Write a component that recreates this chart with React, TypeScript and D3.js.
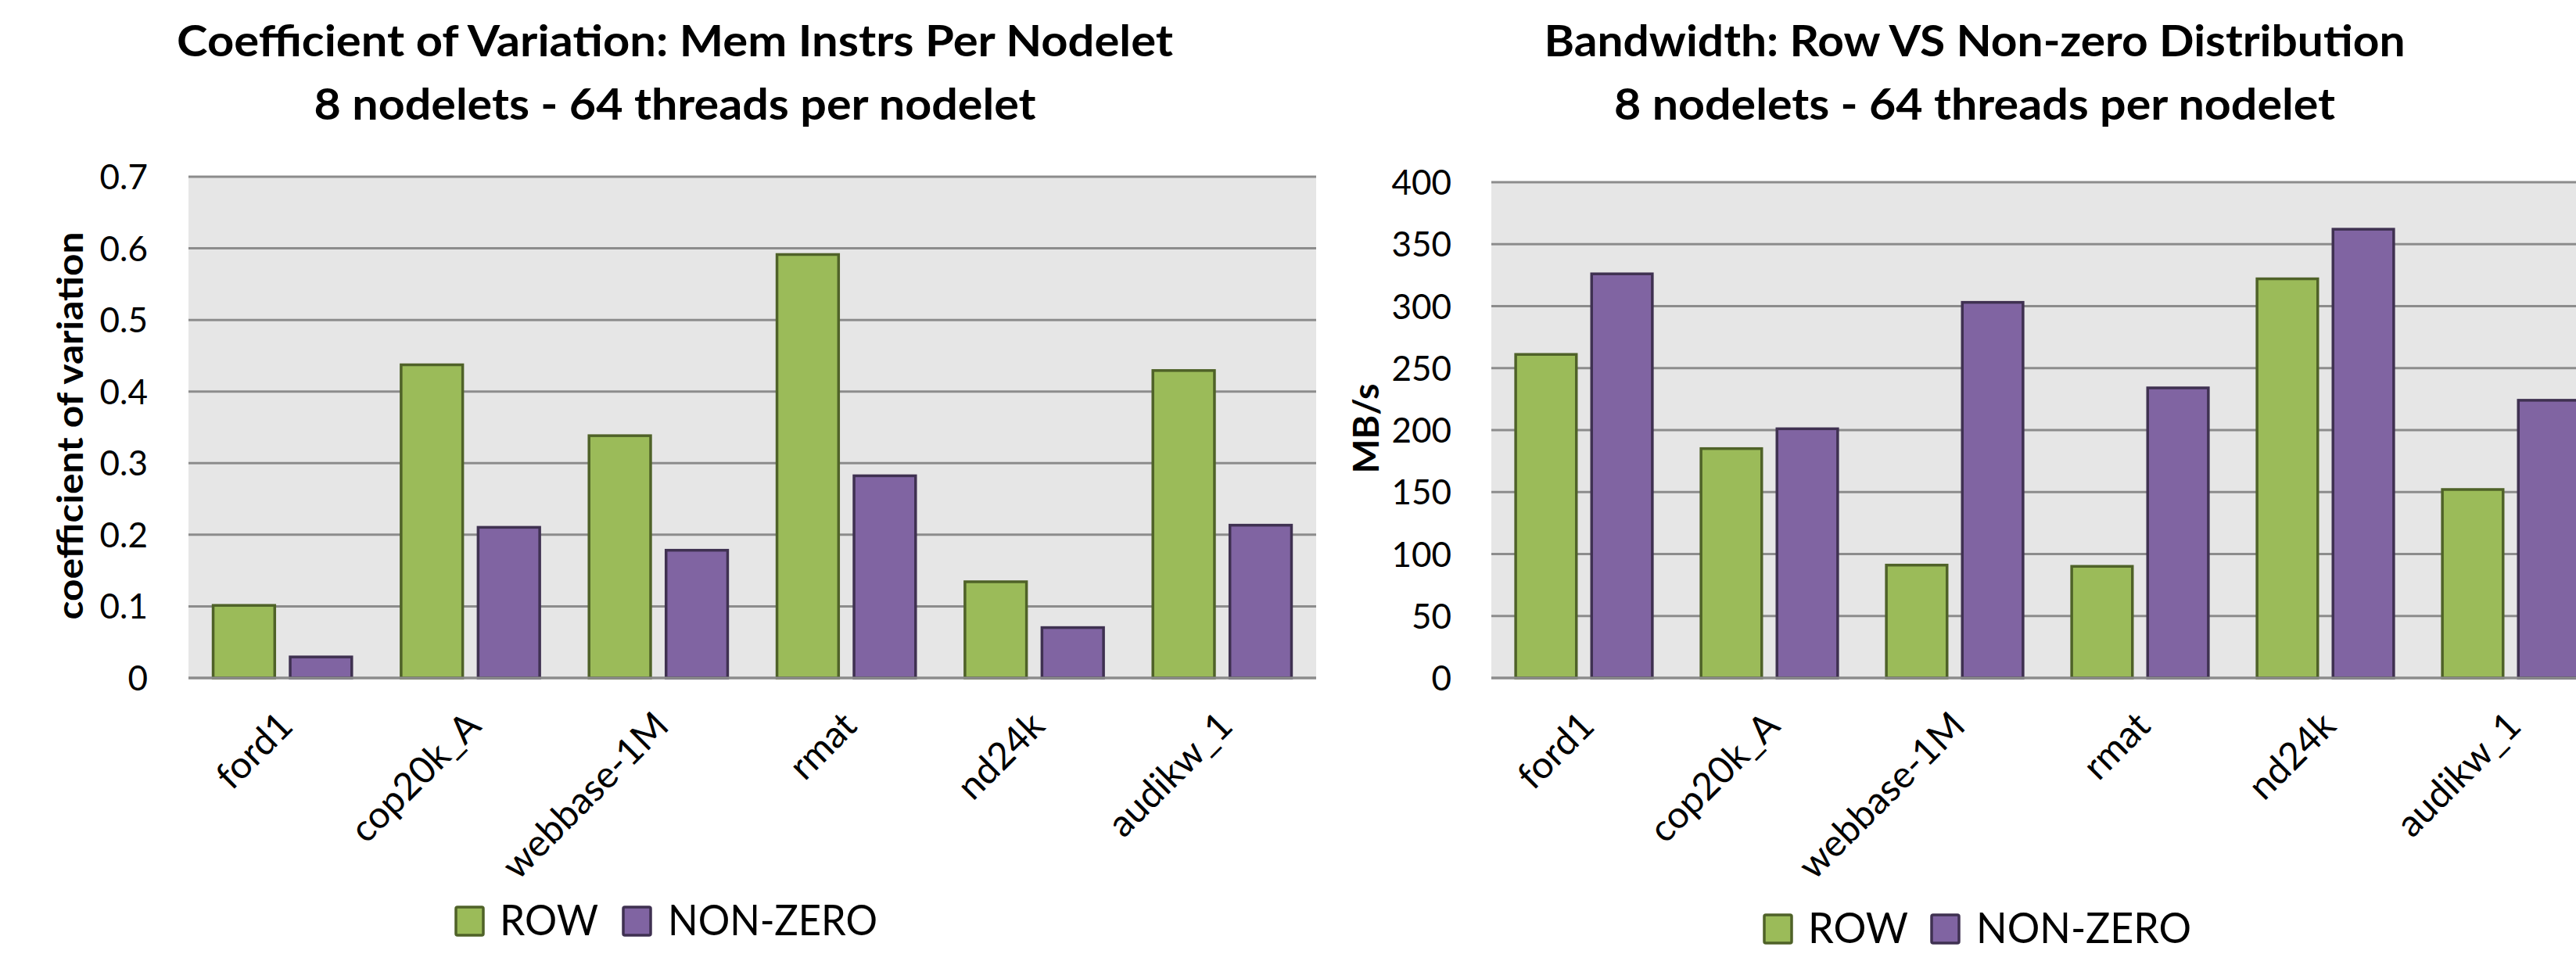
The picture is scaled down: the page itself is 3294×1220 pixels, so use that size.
import React from "react";
import * as d3 from "d3";

// ---------- data ----------
const categories = ["ford1", "cop20k_A", "webbase-1M", "rmat", "nd24k", "audikw_1"];
const seriesNames = ["ROW", "NON-ZERO"];

const cvRow = [0.103, 0.439, 0.340, 0.593, 0.136, 0.431];
const cvNonZero = [0.031, 0.212, 0.180, 0.284, 0.072, 0.215];
const cvTicks = [0, 0.1, 0.2, 0.3, 0.4, 0.5, 0.6, 0.7];

const bwRow = [262, 186, 92, 91, 323, 153];
const bwNonZero = [327, 202, 304, 235, 363, 225];
const bwTicks = [0, 50, 100, 150, 200, 250, 300, 350, 400];

const leftTitle = ["Coefficient of Variation: Mem Instrs Per Nodelet", "8 nodelets - 64 threads per nodelet"];
const rightTitle = ["Bandwidth: Row VS Non-zero Distribution", "8 nodelets - 64 threads per nodelet"];

const COLORS = {
  fill: ["#9BBB59", "#8064A2"],
  stroke: ["#4F6228", "#3F3151"],
};
const FONT = "Lato, 'Open Sans', sans-serif";

type ChartProps = {
  left: number; right: number; top: number; bottom: number;
  maxY: number; ticks: number[]; tickFmt: (v: number) => string;
  row: number[]; nz: number[];
  tickRight: number;
  title: string[]; titleCx: number; titleWidths: number[];
  yTitle: string; yTitleX: number; yTitleLen: number; yTitleSize: number;
  legendX: number; legendY: number; legendLens: number[];
};

function Chart(p: ChartProps) {
  const x0 = d3.scaleBand<string>().domain(categories).range([p.left, p.right]).paddingInner(0.25).paddingOuter(0.125);
  const x1 = d3.scaleBand<string>().domain(seriesNames).range([0, x0.bandwidth()]).paddingInner(0.17);
  const y = d3.scaleLinear().domain([0, p.maxY]).range([p.bottom, p.top]);
  const values = [p.row, p.nz];
  const yMid = (p.top + p.bottom) / 2;
  return (
    <g>
      <rect x={p.left} y={p.top} width={p.right - p.left} height={p.bottom - p.top} fill="#E6E6E6" />
      {p.ticks.map((t) => (
        <g key={t}>
          <line x1={p.left} x2={p.right} y1={y(t)} y2={y(t)} stroke="#8C8C8C" strokeWidth={3} />
          <text x={p.tickRight} y={y(t) + 16} textAnchor="end" fontFamily={FONT} fontSize={44} fill="#000">
            {p.tickFmt(t)}
          </text>
        </g>
      ))}
      {categories.map((c, i) => (
        <g key={c}>
          {seriesNames.map((s, si) => {
            const v = values[si][i];
            const bx = (x0(c) as number) + (x1(s) as number);
            return (
              <rect key={s} x={bx + 1.5} y={y(v) + 1.5} width={x1.bandwidth() - 3} height={y(0) - y(v) - 1.5}
                fill={COLORS.fill[si]} stroke={COLORS.stroke[si]} strokeWidth={3.5} />
            );
          })}
          <text
            transform={`translate(${(x0(c) as number) + x0.bandwidth() / 2 + 16},${p.bottom + 64}) rotate(-45)`}
            textAnchor="end" fontFamily={FONT} fontSize={48} fill="#000">
            {c}
          </text>
        </g>
      ))}
      <line x1={p.left} x2={p.right} y1={y(0)} y2={y(0)} stroke="#8C8C8C" strokeWidth={3} />
      {p.title.map((t, i) => (
        <text key={i} x={p.titleCx} y={72 + i * 81} textAnchor="middle" fontFamily={FONT} fontWeight="bold"
          fontSize={56} textLength={p.titleWidths[i]} lengthAdjust="spacingAndGlyphs" fill="#000">
          {t}
        </text>
      ))}
      <text transform={`translate(${p.yTitleX},${yMid - 2}) rotate(-90)`} textAnchor="middle" fontFamily={FONT}
        fontWeight="bold" fontSize={p.yTitleSize} textLength={p.yTitleLen} lengthAdjust="spacingAndGlyphs" fill="#000">
        {p.yTitle}
      </text>
      {/* legend */}
      <rect x={p.legendX + 2} y={p.legendY - 36} width={35} height={36} fill={COLORS.fill[0]} stroke={COLORS.stroke[0]} strokeWidth={3.5} rx={2} />
      <text x={p.legendX + 58} y={p.legendY} fontFamily={FONT} fontSize={55} textLength={p.legendLens[0]} lengthAdjust="spacingAndGlyphs">
        {seriesNames[0]}
      </text>
      <rect x={p.legendX + 216} y={p.legendY - 36} width={35} height={36} fill={COLORS.fill[1]} stroke={COLORS.stroke[1]} strokeWidth={3.5} rx={2} />
      <text x={p.legendX + 273} y={p.legendY} fontFamily={FONT} fontSize={55} textLength={p.legendLens[1]} lengthAdjust="spacingAndGlyphs">
        {seriesNames[1]}
      </text>
    </g>
  );
}

export default function App() {
  return (
    <svg width={3294} height={1220} style={{ position: "absolute", left: 0, top: 0, background: "#fff" }}>
      <rect x={0} y={0} width={3294} height={1220} fill="#fff" />
      <Chart left={241} right={1683} top={226} bottom={867} maxY={0.7} ticks={cvTicks}
        tickFmt={(v) => (v === 0 ? "0" : d3.format(".1f")(v))}
        row={cvRow} nz={cvNonZero} tickRight={189}
        title={leftTitle} titleCx={863} titleWidths={[1274, 923]}
        yTitle="coefficient of variation" yTitleX={106} yTitleLen={496} yTitleSize={45}
        legendX={581} legendY={1196} legendLens={[126, 268]} />
      <Chart left={1907} right={3329} top={233} bottom={867} maxY={400} ticks={bwTicks}
        tickFmt={(v) => String(v)}
        row={bwRow} nz={bwNonZero} tickRight={1856}
        title={rightTitle} titleCx={2525} titleWidths={[1101, 922]}
        yTitle="MB/s" yTitleX={1763} yTitleLen={115} yTitleSize={46}
        legendX={2254} legendY={1206} legendLens={[128, 275]} />
    </svg>
  );
}
